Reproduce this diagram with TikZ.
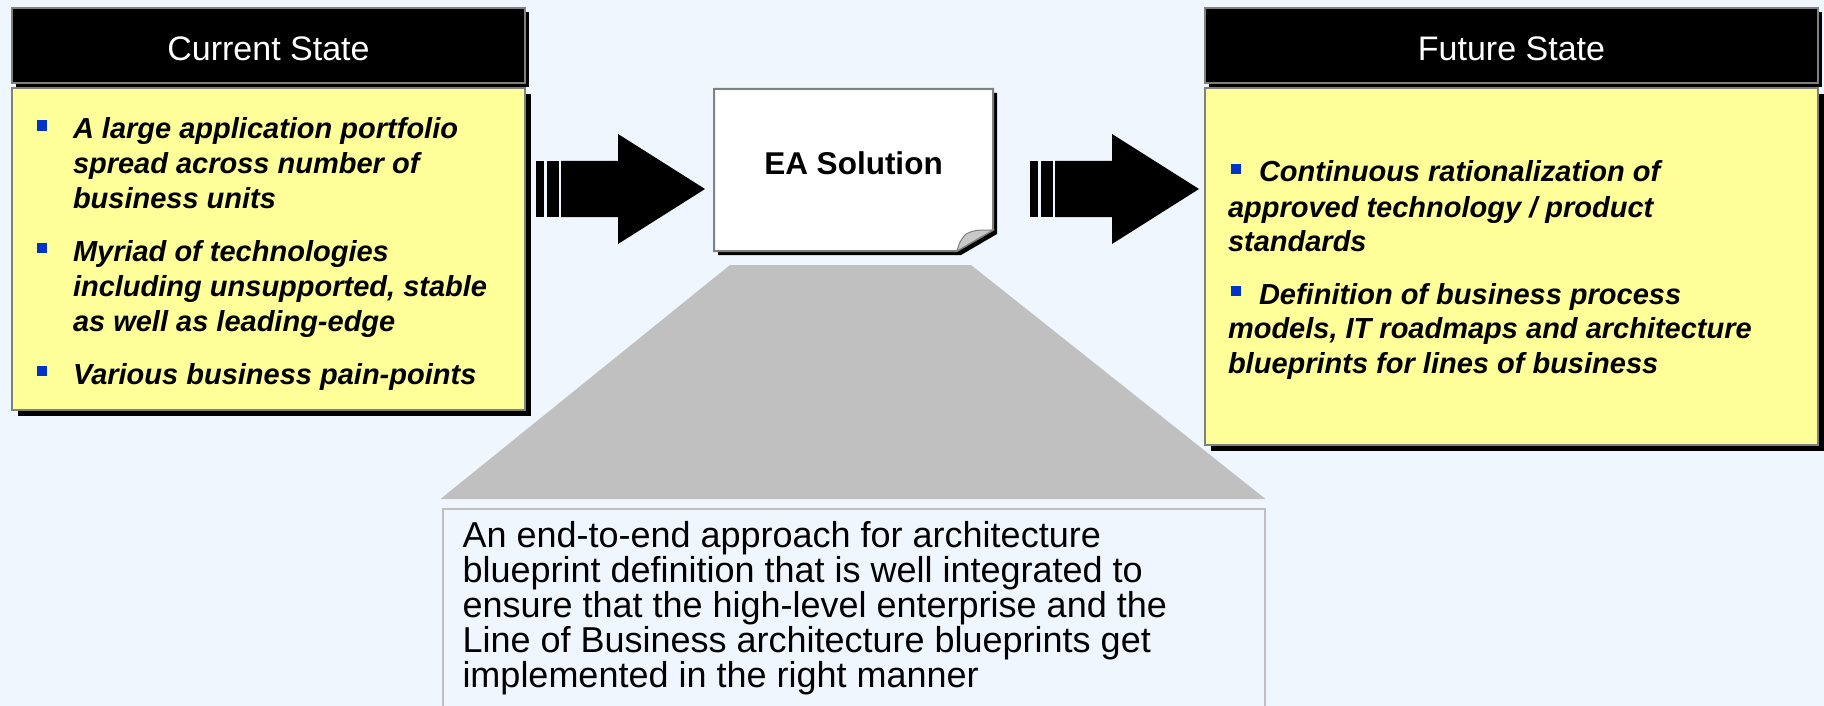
\documentclass[tikz,border=0pt]{standalone}
\usepackage{fontspec}
\setmainfont{Liberation Sans}
\usetikzlibrary{positioning}
\usetikzlibrary{calc,shadows}

\definecolor{bgblue}{RGB}{240,246,253}
\definecolor{noteyellow}{RGB}{255,255,153}
\definecolor{rimgray}{RGB}{128,128,128}
\definecolor{conegray}{RGB}{192,192,192}
\definecolor{curlgray}{RGB}{200,200,200}
\definecolor{bulblue}{RGB}{0,51,204}
\newcommand{\sqbul}{\textcolor{bulblue}{\rule[8pt]{10pt}{10pt}}}

\begin{document}
\begin{tikzpicture}[x=1pt, y=-1pt,
			head/.style = {
				rectangle, fill=black, draw=rimgray, line width=2pt,
				minimum height=75pt, inner sep=0pt, text=white,
				text height=30pt, text depth=0pt,
				font=\fontsize{34}{40}\selectfont,
				general shadow={fill=black, shadow xshift=4pt, shadow yshift=-4pt}
			},
			panel/.style = {
				rectangle, fill=noteyellow, draw=rimgray, line width=2pt,
				inner sep=0pt,
				general shadow={fill=black, shadow xshift=6pt, shadow yshift=-6pt}
			},
			items/.style = {
				align=left, inner sep=0pt, outer sep=0pt,
				font=\fontsize{29}{35}\selectfont\bfseries\itshape
			},
			paper/.style = {
				rectangle, minimum width=279pt, minimum height=162pt,
				inner sep=0pt, outer sep=0pt
			},
			eatext/.style = {
				inner sep=0pt, text height=16pt, text depth=6pt,
				font=\fontsize{31.5}{36}\selectfont\bfseries
			},
			descbox/.style = {
				rectangle, draw=conegray, fill=bgblue, line width=2pt,
				minimum width=822pt, minimum height=240pt, inner sep=0pt
			},
			desctext/.style = {
				align=left, inner sep=0pt, outer sep=0pt,
				font=\fontsize{36}{35}\selectfont
			}]
			\useasboundingbox (0,0) rectangle (1824,706);
			\fill[bgblue] (0,0) rectangle (1824,706);

			% current state
			\node (cur) [head, minimum width=513pt] at (268.5,45.5) {Current State};
			\node (curbox) [panel, minimum width=513pt, minimum height=322pt,
			below = 3pt of cur] {};
			\node (curtext) [items, right = 62pt of curbox.west, yshift=-5pt] {%
				\llap{\sqbul\hspace{26pt}}A large application portfolio\\
				spread across number of\\
				business units\\[18pt]
				\llap{\sqbul\hspace{26pt}}Myriad of technologies\\
				including unsupported, stable\\
				as well as leading-edge\\[18pt]
				\llap{\sqbul\hspace{26pt}}Various business pain-points};

			% future state
			\node (fut) [head, minimum width=613pt] at (1511.5,45.5) {Future State};
			\node (futbox) [panel, minimum width=613pt, minimum height=357pt,
			below = 3pt of fut] {};
			\node (futtext) [items, right = 24pt of futbox.west, yshift=-4pt] {%
				\hspace*{3pt}\sqbul\hspace*{18pt}Continuous rationalization of\\
				approved technology / product\\
				standards\\[17pt]
				\hspace*{3pt}\sqbul\hspace*{18pt}Definition of business process\\
				models, IT roadmaps and architecture\\
				blueprints for lines of business};

			% EA solution sheet
			\node (ea) [paper] at (853.5,170) {};
			\coordinate (ecut1) at ($(ea.south east)+(0,-21)$);
			\coordinate (ecut2) at ($(ea.south east)+(-36,0)$);
			\fill[black] ($(ea.north west)+(4,4)$) -- ($(ea.north east)+(4,4)$)
			-- ($(ecut1)+(4,4)$) -- ($(ecut2)+(4,4)$) -- ($(ea.south west)+(4,4)$) -- cycle;
			\draw[rimgray, line width=2pt, fill=white] (ea.north west) -- (ea.north east)
			-- (ecut1) -- (ecut2) -- (ea.south west) -- cycle;
			\draw[rimgray, line width=1pt, fill=curlgray] (ecut2)
			.. controls ($(ecut2)+(3,-10)$) .. ($(ecut2)+(9,-17)$)
			.. controls ($(ecut2)+(18,-21)$) .. (ecut1) -- cycle;
			\node (ealbl) [eatext] at (ea) {EA Solution};

			% block arrows
			\coordinate (arrA) at (536,189);
			\coordinate (arrB) at (1030,189);
			\foreach \a in {arrA,arrB} {
				\fill (\a) ++(0,-28) rectangle ++(8,56);
				\fill (\a) ++(10.5,-28) rectangle ++(12.5,56);
				\fill (\a) ++(25,-28) -- ++(57,0) -- ++(0,-27) -- ++(87,55)
				-- ++(-87,55) -- ++(0,-27) -- ++(-57,0) -- cycle;
			}

			% zoom cone and description
			\node (desc) [descbox, below = 257pt of ea] {};
			\fill[conegray] ($(ea.south west)+(16,14)$) -- ($(ea.south east)+(-22,14)$)
			-- ($(desc.north east)+(0,-9)$) -- ($(desc.north west)+(-1,-9)$) -- cycle;
			\node (desctxt) [desctext, below right = 13pt and 21pt of desc.north west] {%
				An end-to-end approach for architecture\\
				blueprint definition that is well integrated to\\
				ensure that the high-level enterprise and the\\
				Line of Business architecture blueprints get\\
				implemented in the right manner};
		\end{tikzpicture}
\end{document}
